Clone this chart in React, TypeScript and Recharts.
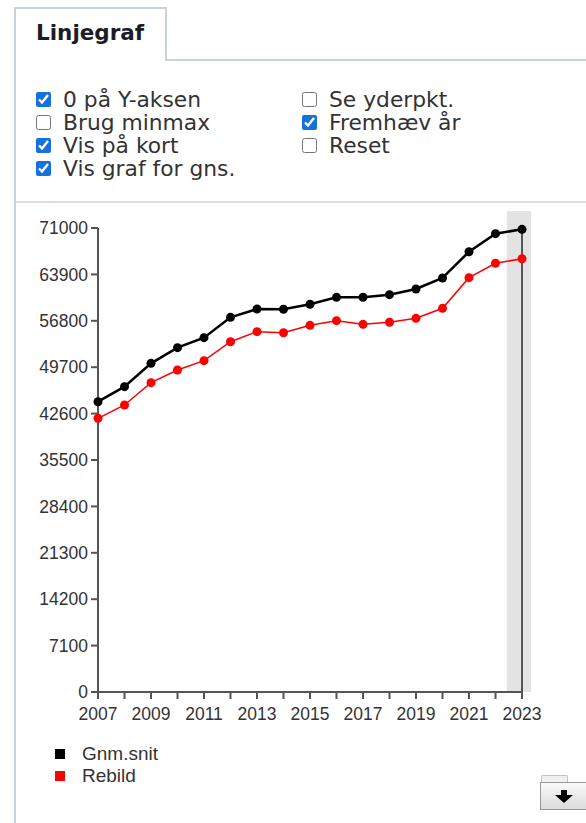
import React from "react";
import {
  LineChart,
  Line,
  XAxis,
  YAxis,
  ReferenceArea,
} from "recharts";

const years = [2007, 2008, 2009, 2010, 2011, 2012, 2013, 2014, 2015, 2016, 2017, 2018, 2019, 2020, 2021, 2022, 2023];
const gnmSnit = [44420, 46720, 50290, 52690, 54220, 57330, 58600, 58560, 59330, 60390, 60400, 60800, 61670, 63350, 67370, 70130, 70800];
const rebild = [41880, 43920, 47330, 49270, 50700, 53600, 55140, 54980, 56110, 56820, 56260, 56570, 57180, 58710, 63400, 65600, 66300];
const yTicks = [0, 7100, 14200, 21300, 28400, 35500, 42600, 49700, 56800, 63900, 71000];
const xLabelYears = [2007, 2009, 2011, 2013, 2015, 2017, 2019, 2021, 2023];
const highlightYear = 2023;

const seriesNames = ["Gnm.snit", "Rebild"];
const seriesColors = ["#000000", "#ff0000"];

const leftOptions = [
  { label: "0 på Y-aksen", checked: true },
  { label: "Brug minmax", checked: false },
  { label: "Vis på kort", checked: true },
  { label: "Vis graf for gns.", checked: true },
];
const rightOptions = [
  { label: "Se yderpkt.", checked: false },
  { label: "Fremhæv år", checked: true },
  { label: "Reset", checked: false },
];

const data = years.map((y, i) => ({ year: y, gnm: gnmSnit[i], rebild: rebild[i] }));

const tickStyle = { fontFamily: "'Liberation Sans', Arial, sans-serif", fontSize: 17.5, fill: "#333" };

function OptionList({ items, left }: { items: { label: string; checked: boolean }[]; left: number }) {
  return (
    <div style={{ position: "absolute", left, top: 88 }}>
      {items.map((it) => (
        <div
          key={it.label}
          style={{ display: "flex", alignItems: "center", height: 23, fontFamily: "'DejaVu Sans', Verdana, sans-serif", fontSize: 21.8, color: "#333", whiteSpace: "nowrap" }}
        >
          <input
            type="checkbox"
            checked={it.checked}
            readOnly
            style={{ width: 15, height: 15, margin: "0 12px 0 0", accentColor: "#1570e0" }}
          />
          <span>{it.label}</span>
        </div>
      ))}
    </div>
  );
}

export default function App() {
  return (
    <div style={{ position: "absolute", left: 0, top: 0, width: 586, height: 823, overflow: "hidden", background: "#fff" }}>
      {/* tab */}
      <div style={{ position: "absolute", left: 14, top: 7, width: 153, height: 54, borderTop: "2px solid #c9d1da", borderLeft: "2px solid #c9d1da", borderRight: "2px solid #c9d1da", background: "#fff", boxSizing: "border-box" }} />
      <div style={{ position: "absolute", left: 167, top: 59, width: 430, height: 2, background: "#c9d1da" }} />
      <div style={{ position: "absolute", left: 14, top: 59, width: 2, height: 780, background: "#c9d1da" }} />
      <div style={{ position: "absolute", left: 36, top: 20, fontFamily: "'DejaVu Sans', Verdana, sans-serif", fontWeight: "bold", fontSize: 21.5, color: "#1c1c28" }}>Linjegraf</div>

      <OptionList items={leftOptions} left={36} />
      <OptionList items={rightOptions} left={302} />

      <div style={{ position: "absolute", left: 16, top: 201, width: 580, height: 2, background: "#dcdcdc" }} />

      <div style={{ position: "absolute", left: 0, top: 200 }}>
        <LineChart width={586} height={540} data={data} margin={{ top: 28, right: 0, left: 18, bottom: 18 }}>
          <ReferenceArea
            yAxisId="left"
            x1={highlightYear - 0.57}
            x2={highlightYear + 0.34}
            y1={0}
            y2={73600}
            fill="#e3e3e3"
            fillOpacity={1}
            stroke="none"
            ifOverflow="visible"
          />
          <XAxis
            dataKey="year"
            type="number"
            domain={[years[0], years[years.length - 1]]}
            ticks={years}
            interval={0}
            tickFormatter={(v: number) => (xLabelYears.includes(v) ? String(v) : "")}
            tick={tickStyle}
            tickSize={7}
            tickMargin={9}
            height={30}
            axisLine={{ stroke: "#555", strokeWidth: 2 }}
            tickLine={{ stroke: "#555", strokeWidth: 2 }}
          />
          <YAxis
            yAxisId="left"
            orientation="left"
            domain={[0, 71000]}
            ticks={yTicks}
            interval={0}
            width={80}
            tick={tickStyle}
            tickSize={7}
            tickMargin={3}
            axisLine={{ stroke: "#555", strokeWidth: 2 }}
            tickLine={{ stroke: "#555", strokeWidth: 2 }}
          />
          <YAxis
            yAxisId="right"
            orientation="right"
            domain={[0, 71000]}
            ticks={yTicks}
            interval={0}
            width={64}
            tick={tickStyle}
            tickSize={7}
            tickMargin={3}
            axisLine={{ stroke: "#555", strokeWidth: 2 }}
            tickLine={{ stroke: "#555", strokeWidth: 2 }}
          />
          <Line
            yAxisId="left"
            type="linear"
            dataKey="rebild"
            name={seriesNames[1]}
            stroke={seriesColors[1]}
            strokeWidth={1.5}
            dot={{ r: 4.5, fill: seriesColors[1], stroke: seriesColors[1], strokeWidth: 0 }}
            isAnimationActive={false}
          />
          <Line
            yAxisId="left"
            type="linear"
            dataKey="gnm"
            name={seriesNames[0]}
            stroke={seriesColors[0]}
            strokeWidth={2.5}
            dot={{ r: 4.5, fill: seriesColors[0], stroke: seriesColors[0], strokeWidth: 0 }}
            isAnimationActive={false}
          />
        </LineChart>
      </div>

      {/* legend */}
      <div style={{ position: "absolute", left: 55, top: 743 }}>
        {seriesNames.map((n, i) => (
          <div key={n} style={{ display: "flex", alignItems: "center", height: 22, fontFamily: "'Liberation Sans', Arial, sans-serif", fontSize: 19, color: "#333" }}>
            <span style={{ display: "inline-block", width: 10, height: 10, background: seriesColors[i], marginRight: 17 }} />
            <span>{n}</span>
          </div>
        ))}
      </div>

      {/* download icon */}
      <div style={{ position: "absolute", left: 541, top: 775, width: 25, height: 8, border: "1px solid #c4c4c4", borderBottom: "none", background: "#f0f0f0", borderRadius: "2px 2px 0 0" }} />
      <div style={{ position: "absolute", left: 540, top: 782, width: 50, height: 28, border: "1px solid #999", background: "linear-gradient(#fafafa, #dcdcdc)", boxSizing: "border-box" }}>
        <svg width="22" height="14" style={{ position: "absolute", left: 12, top: 7 }}>
          <path d="M8 0 H14 V5 H20 L11 13 L2 5 H8 Z" fill="#000" />
        </svg>
      </div>
    </div>
  );
}
